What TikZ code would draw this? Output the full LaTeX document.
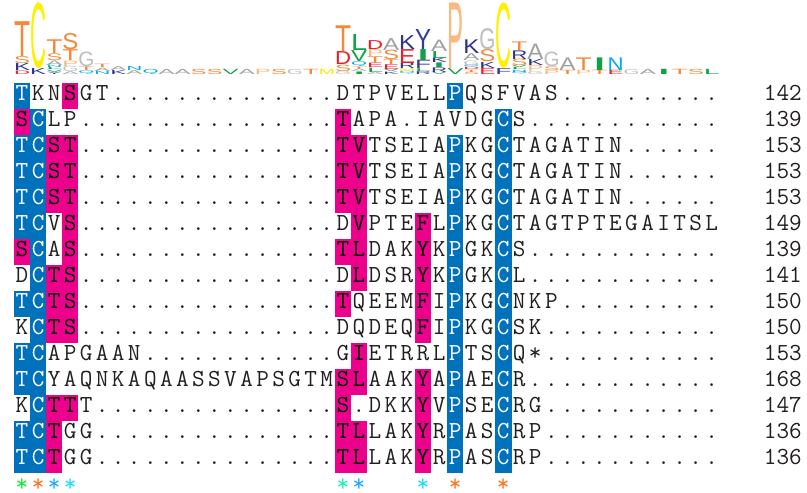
\documentclass[tikz,border=0pt]{standalone}
\usepackage{fontspec}
\usepackage{graphicx}
\newfontfamily\logofont{Liberation Sans}
\definecolor{aaT}{RGB}{247,135,55}
\definecolor{aaS}{RGB}{247,135,55}
\definecolor{aaC}{RGB}{255,240,0}
\definecolor{aaM}{RGB}{255,230,0}
\definecolor{aaP}{RGB}{250,185,130}
\definecolor{aaG}{RGB}{190,190,190}
\definecolor{aaA}{RGB}{160,160,160}
\definecolor{aaK}{RGB}{45,50,145}
\definecolor{aaR}{RGB}{45,50,145}
\definecolor{aaY}{RGB}{50,60,160}
\definecolor{aaF}{RGB}{50,60,160}
\definecolor{aaL}{RGB}{20,160,70}
\definecolor{aaV}{RGB}{20,160,70}
\definecolor{aaI}{RGB}{20,160,70}
\definecolor{aaD}{RGB}{235,30,40}
\definecolor{aaE}{RGB}{235,30,40}
\definecolor{aaN}{RGB}{0,170,235}
\definecolor{aaQ}{RGB}{0,170,235}
\definecolor{hlblue}{RGB}{0,114,188}
\definecolor{hlmag}{RGB}{236,0,140}
\definecolor{txt}{RGB}{35,31,32}
\definecolor{stgreen}{RGB}{25,230,60}
\definecolor{storange}{RGB}{255,112,32}
\definecolor{stsky}{RGB}{26,175,255}
\definecolor{stcyan}{RGB}{26,220,255}
\definecolor{staqua}{RGB}{26,240,180}
\definecolor{stblue}{RGB}{26,168,255}
\newcommand\Dten{..........}
\def\modeb{b}\def\modem{m}
\newcommand\placechar[1]{%
  \pgfmathtruncatemacro\tmpj{\colj+1}\xdef\colj{\tmpj}%
  \pgfmathsetmacro\cx{14+16.04*(\colj-0.5)}%
  \ifx\mode\modeb
    \fill[hlblue] (\cx-8.3,\rowy-17.5) rectangle (\cx+8.3,\rowy+8.5);
    \node[res,text=white] (r\rowi c\colj) at (\cx,\rowy) {#1};
  \else\ifx\mode\modem
    \fill[hlmag] (\cx-8.3,\rowy-17.5) rectangle (\cx+8.3,\rowy+8.5);
    \node[res,text=black] (r\rowi c\colj) at (\cx,\rowy) {#1};
  \else
    \node[res] (r\rowi c\colj) at (\cx,\rowy) {#1};
  \fi\fi
  \gdef\mode{n}}
\def\walk#1{%
  \ifx#1\relax\let\walknext\relax
  \else
    \ifx#1!\gdef\mode{b}\else\ifx#1+\gdef\mode{m}\else\placechar{#1}\fi\fi
    \let\walknext\walk
  \fi\walknext}
\newcommand\putrow[3]{%
  \pgfmathsetmacro\rowy{100.5+26*(#1-1)}\xdef\rowy{\rowy}%
  \xdef\rowi{#1}\gdef\colj{0}\gdef\mode{n}%
  \edef\rowstr{#2}%
  \expandafter\walk\rowstr\relax
  \node[num] (n#1) at (802,\rowy) {#3};}
\newcommand\stack[2]{%
  \gdef\stacky{74.5}%
  \foreach \ltr/\hgt in {#2}{%
    \node[logo] (g#1\ltr) at ({14+16.04*(#1-1)},\stacky)
      {\resizebox*{16.04pt}{\hgt pt}{\textcolor{aa\ltr}{\logofont\ltr}}};
    \pgfmathsetmacro\tmpy{\stacky-\hgt}\xdef\stacky{\tmpy}%
  }}
\newcommand\consstar[2]{%
  \node[res,text=#2] (s#1) at ({14+16.04*(#1-0.5)},491) {*};}
\begin{document}
\begin{tikzpicture}[x=1pt,y=-1pt,
  res/.style={inner sep=0pt,anchor=base,text=txt,font=\ttfamily\fontsize{24.5}{26}\selectfont},
  num/.style={inner sep=0pt,anchor=base east,text=txt,font=\ttfamily\fontsize{24.5}{26}\selectfont},
  logo/.style={inner sep=0pt,anchor=south west}]
\fill[white] (0,0) rectangle (807,493);
\path[use as bounding box] (0,0) rectangle (807,493);
% sequence logo
\stack{1}{D/3.5,K/7.0,S/7.0,T/34.8}
\stack{2}{K/6,C/65.5}
\stack{3}{Y/2.3,V/2.3,L/2.3,N/2.3,A/4.6,S/6.8,T/13.7}
\stack{4}{A/2.7,G/5.4,P/5.4,T/10.8,S/16.2}
\stack{5}{Q/3.7,T/3.7,G/14.7}
\stack{6}{N/3.3,A/3.3,T/3.3}
\stack{7}{K/4,A/4}
\stack{8}{A/4,N/4}
\stack{9}{Q/5.2}
\stack{10}{A/5.2}
\stack{11}{A/5.2}
\stack{12}{S/5.2}
\stack{13}{S/5.2}
\stack{14}{V/5.2}
\stack{15}{A/5.2}
\stack{16}{P/5.2}
\stack{17}{S/5.2}
\stack{18}{G/5.2}
\stack{19}{T/5.2}
\stack{20}{M/5.2}
\stack{21}{G/3.2,S/6.4,D/12.9,T/25.7}
\stack{22}{I/2.5,A/2.5,T/2.5,Q/4.9,V/11,L/16}
\stack{23}{A/2.2,L/4.4,E/4.4,T/6.7,P/6.7,D/8.9}
\stack{24}{K/2.4,V/2.4,E/4.8,T/4.8,S/9.5,A/11.9}
\stack{25}{Q/2.8,M/2.8,R/5.6,E/13.9,K/13.9}
\stack{26}{R/2.8,L/2.8,F/8.3,I/11.0,Y/20}
\stack{27}{V/2.3,R/4.6,I/4.6,K/4.6,L/6.9,A/11.4}
\stack{28}{V/6,P/65.5}
\stack{29}{S/2.3,T/2.3,D/2.3,Q/2.3,G/4.6,A/6.8,K/13.7}
\stack{30}{E/6.1,K/6.1,S/12.1,G/21.2}
\stack{31}{F/6,C/65.5}
\stack{32}{Q/2.2,N/2.2,L/2.2,V/2.2,S/6.5,R/8.6,T/8.6}
\stack{33}{G/3.1,P/6.1,K/6.1,A/15.4}
\stack{34}{P/3.7,S/3.7,G/14.7}
\stack{35}{T/4.2,A/12.6}
\stack{36}{P/4.2,T/12.6}
\stack{37}{T/4.2,I/12.6}
\stack{38}{E/4.2,N/12.6}
\stack{39}{G/5.2}
\stack{40}{A/5.2}
\stack{41}{I/5.2}
\stack{42}{T/5.2}
\stack{43}{S/5.2}
\stack{44}{L/5.2}
% alignment
\putrow{1}{!TKN+SGT\Dten....DTPVELL!PQSFVAS\Dten}{142}
\putrow{2}{+S!CLP\Dten......+TAPA.IAVDG!CS\Dten..}{139}
\putrow{3}{!T!C+S+T\Dten......+T+VTSEIA!PKG!CTAGATIN......}{153}
\putrow{4}{!T!C+S+T\Dten......+T+VTSEIA!PKG!CTAGATIN......}{153}
\putrow{5}{!T!C+S+T\Dten......+T+VTSEIA!PKG!CTAGATIN......}{153}
\putrow{6}{!T!CV+S\Dten......D+VPTE+FL!PKG!CTAGTPTEGAITSL}{149}
\putrow{7}{+S!CA+S\Dten......+T+LDAK+YK!PGK!CS\Dten..}{139}
\putrow{8}{D!C+T+S\Dten......D+LDSR+YK!PGK!CL\Dten..}{141}
\putrow{9}{!T!C+T+S\Dten......+TQEEM+FI!PKG!CNKP\Dten}{150}
\putrow{10}{K!C+T+S\Dten......DQDEQ+FI!PKG!CSK\Dten.}{150}
\putrow{11}{!T!CAPGAAN\Dten..G+IETRRL!PTS!CQ*\Dten.}{153}
\putrow{12}{!T!CYAQNKAQAASSVAPSGTM+S+LAAK+YA!PAE!CR\Dten..}{168}
\putrow{13}{K!C+T+TT\Dten.....+S.DKK+YV!PSE!CRG\Dten.}{147}
\putrow{14}{!T!C+TGG\Dten.....+T+LLAK+YR!PAS!CRP\Dten.}{136}
\putrow{15}{!T!C+TGG\Dten.....+T+LLAK+YR!PAS!CRP\Dten.}{136}
% conservation stars
\consstar{1}{stgreen}
\consstar{2}{storange}
\consstar{3}{stsky}
\consstar{4}{stcyan}
\consstar{21}{staqua}
\consstar{22}{stblue}
\consstar{26}{stcyan}
\consstar{28}{storange}
\consstar{31}{storange}
\end{tikzpicture}
\end{document}
